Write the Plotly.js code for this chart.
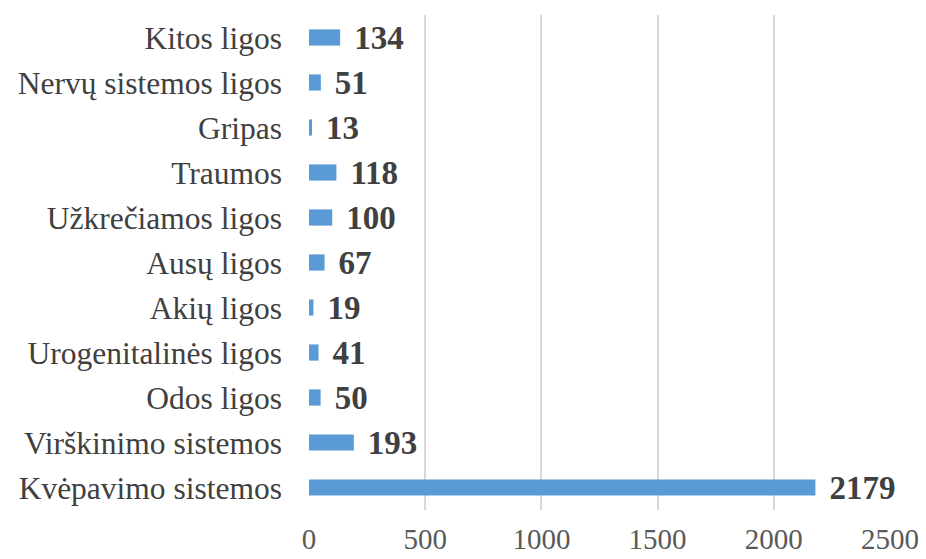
<!DOCTYPE html>
<html><head><meta charset="utf-8">
<script src="https://cdn.plot.ly/plotly-3.0.1.min.js"></script>
<style>html,body{margin:0;padding:0;background:#fff}</style>
</head><body><div id="chart" style="width:926px;height:559px"></div>
<script>
const categories = ["Kvėpavimo sistemos","Virškinimo sistemos","Odos ligos","Urogenitalinės ligos","Akių ligos","Ausų ligos","Užkrečiamos ligos","Traumos","Gripas","Nervų sistemos ligos","Kitos ligos"];
const values = [2179,193,50,41,19,67,100,118,13,51,134];
const xTicks = [0,500,1000,1500,2000,2500];

Plotly.newPlot('chart',[{
  type:'bar', orientation:'h', y:categories, x:values,
  marker:{color:'#5B9BD5'},
  text: values.map(v=>String(v)), texttemplate:'\u2004%{text}',
  textposition:'outside', cliponaxis:false, constraintext:'none',
  textfont:{family:'Liberation Serif', size:33, color:'#404040', weight:'bold'},
  hoverinfo:'none'
}],{
  width:926, height:559,
  margin:{l:309, r:36, t:15, b:49},
  bargap:0.64,
  paper_bgcolor:'#fff', plot_bgcolor:'#fff',
  font:{family:'Liberation Serif', color:'#404040'},
  showlegend:false,
  xaxis:{range:[0,2500], tickvals:xTicks, showgrid:true, gridcolor:'#D9D9D9', gridwidth:2,
    zeroline:false, showline:false, ticks:'', ticklabelstandoff:9,
    tickfont:{family:'Liberation Serif', size:29, color:'#595959'}},
  yaxis:{categoryorder:'array', categoryarray:categories, showgrid:false, zeroline:false,
    showline:false, ticks:'', ticklabelstandoff:26,
    tickfont:{family:'Liberation Serif', size:31.5, color:'#404040'}}
},{staticPlot:true});
</script></body></html>
